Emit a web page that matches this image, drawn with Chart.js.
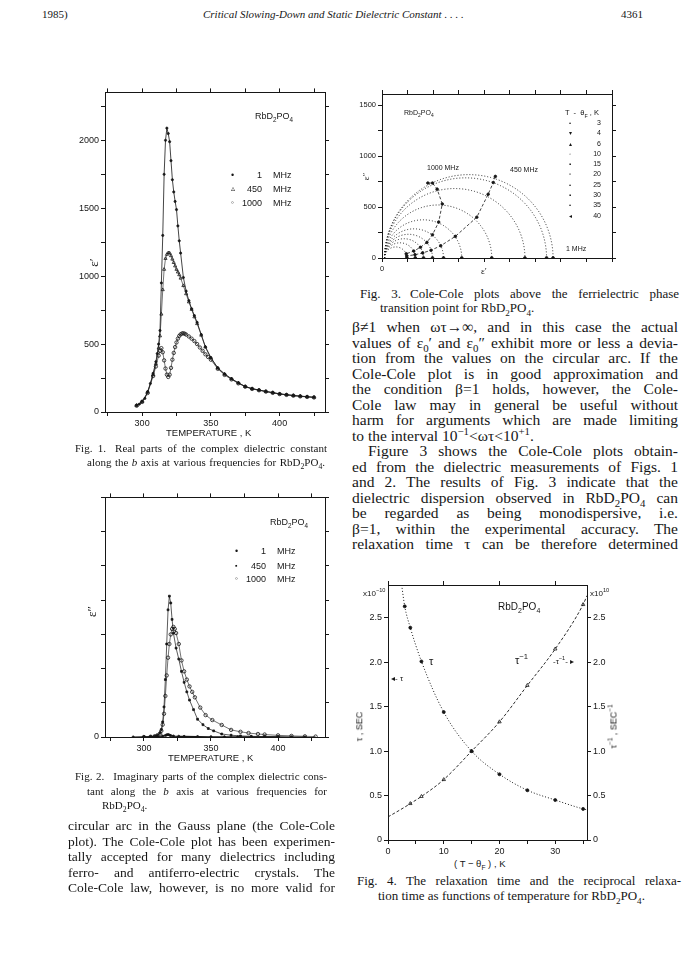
<!DOCTYPE html>
<html>
<head>
<meta charset="utf-8">
<script src="https://cdn.jsdelivr.net/npm/chart.js@4.4.1/dist/chart.umd.min.js"></script>
<style>
body{margin:0;background:#fff;width:688px;height:971px;position:relative;overflow:hidden;font-family:"Liberation Serif",serif;color:#161616}
canvas{position:absolute}
.t{position:absolute;white-space:nowrap;line-height:1}
.j{position:absolute;white-space:nowrap;line-height:1}
.s{font-family:"Liberation Sans",Arial,sans-serif}
.r{transform:rotate(-90deg);transform-origin:center center}
.g{display:inline-block;width:9px}
.b{font-size:15.5px}
sub,sup{font-size:70%;line-height:0}
</style>
</head>
<body>

<!-- page header -->
<div class="t" style="left:42px;top:9px;font-size:11px">1985)</div>
<div class="t" style="left:203px;top:9px;font-size:11px;font-style:italic">Critical Slowing-Down and Static Dielectric Constant . . . .</div>
<div class="t" style="left:621px;top:9px;font-size:11px">4361</div>

<canvas id="fig1" width="285" height="357" style="left:55px;top:85px"></canvas>
<canvas id="fig2" width="285" height="270" style="left:55px;top:490px"></canvas>
<canvas id="fig3" width="280" height="185" style="left:345px;top:87px"></canvas>
<canvas id="fig4" width="280" height="280" style="left:345px;top:577px"></canvas>

<!-- Fig. 1 labels -->
<div class="t s" style="left:255px;top:112px;font-size:9px">RbD<sub>2</sub>PO<sub>4</sub></div>
<div class="t s" style="left:231px;top:171px;font-size:9px">•</div>
<div class="t s" style="left:231px;top:185px;font-size:8px">▵</div>
<div class="t s" style="left:231px;top:199px;font-size:8px">◦</div>
<div class="t s" style="left:240px;top:171px;width:22px;text-align:right;font-size:9px">1</div>
<div class="t s" style="left:240px;top:185px;width:22px;text-align:right;font-size:9px">450</div>
<div class="t s" style="left:240px;top:199px;width:22px;text-align:right;font-size:9px">1000</div>
<div class="t s" style="left:273px;top:171px;font-size:9px">MHz</div>
<div class="t s" style="left:273px;top:185px;font-size:9px">MHz</div>
<div class="t s" style="left:273px;top:199px;font-size:9px">MHz</div>
<div class="t r" style="left:89px;top:256px;font-size:13px">ε′</div>
<div class="t s" style="left:166px;top:428px;font-size:9.5px">TEMPERATURE , K</div>
<div class="j" style="left:75px;top:443px;width:252px;font-size:11px">Fig. 1.<span class="g"></span>Real parts of the complex dielectric constant</div>
<div class="j" style="left:87px;top:457px;width:238px;font-size:11px">along the <i>b</i> axis at various frequencies for RbD<sub>2</sub>PO<sub>4</sub>.</div>

<!-- Fig. 2 labels -->
<div class="t s" style="left:270px;top:518px;font-size:9px">RbD<sub>2</sub>PO<sub>4</sub></div>
<div class="t s" style="left:235px;top:547px;font-size:9px">•</div>
<div class="t s" style="left:235px;top:562px;font-size:7px">▪</div>
<div class="t s" style="left:235px;top:575px;font-size:8px">◦</div>
<div class="t s" style="left:244px;top:547px;width:22px;text-align:right;font-size:9px">1</div>
<div class="t s" style="left:244px;top:562px;width:22px;text-align:right;font-size:9px">450</div>
<div class="t s" style="left:244px;top:575px;width:22px;text-align:right;font-size:9px">1000</div>
<div class="t s" style="left:277px;top:547px;font-size:9px">MHz</div>
<div class="t s" style="left:277px;top:562px;font-size:9px">MHz</div>
<div class="t s" style="left:277px;top:575px;font-size:9px">MHz</div>
<div class="t r" style="left:86px;top:605px;font-size:13px">ε″</div>
<div class="t s" style="left:168px;top:753px;font-size:9.5px">TEMPERATURE , K</div>
<div class="j" style="left:75px;top:771px;width:252px;font-size:11px">Fig. 2.<span class="g"></span>Imaginary parts of the complex dielectric cons-</div>
<div class="j" style="left:87px;top:786px;width:240px;font-size:11px">tant along the <i>b</i> axis at various frequencies for</div>
<div class="t" style="left:102px;top:800px;font-size:11px">RbD<sub>2</sub>PO<sub>4</sub>.</div>

<!-- left column text -->
<div class="j" style="left:68px;top:819px;width:267px;font-size:13.5px">circular arc in the Gauss plane (the Cole-Cole</div>
<div class="j" style="left:68px;top:834.5px;width:267px;font-size:13.5px">plot). The Cole-Cole plot has been experimen-</div>
<div class="j" style="left:68px;top:850px;width:267px;font-size:13.5px">tally accepted for many dielectrics including</div>
<div class="j" style="left:68px;top:865.5px;width:267px;font-size:13.5px">ferro- and antiferro-electric crystals. The</div>
<div class="j" style="left:68px;top:881px;width:267px;font-size:13.5px">Cole-Cole law, however, is no more valid for</div>

<!-- Fig. 3 labels -->
<div class="t s" style="left:404px;top:109px;font-size:7px">RbD<sub>2</sub>PO<sub>4</sub></div>
<div class="t s" style="left:565px;top:109px;font-size:7.5px">T &nbsp;- &nbsp;θ<sub>F</sub> , K</div>
<div class="t s" style="left:569px;top:118px;font-size:6px;line-height:10.3px">•<br>▾<br>▴<br>◦<br>▪<br>▫<br>•<br>▪<br>•<br>◂</div>
<div class="t s" style="left:582px;top:118px;width:19px;text-align:right;font-size:7px;line-height:10.3px">3<br>4<br>6<br>10<br>15<br>20<br>25<br>30<br>35<br>40</div>
<div class="t s" style="left:427px;top:164px;font-size:7px">1000 MHz</div>
<div class="t s" style="left:510px;top:166px;font-size:7px">450 MHz</div>
<div class="t s" style="left:566px;top:245px;font-size:7px">1 MHz</div>
<div class="t r" style="left:363px;top:172px;font-size:9px">ε″</div>
<div class="t" style="left:481px;top:267px;font-size:9px">ε′</div>
<div class="j" style="left:360px;top:287px;width:319px;font-size:13px">Fig. 3.<span class="g"></span>Cole-Cole plots above the ferrielectric phase</div>
<div class="t" style="left:380px;top:301px;font-size:13px">transition point for RbD<sub>2</sub>PO<sub>4</sub>.</div>

<!-- right column text -->
<div class="j b" style="left:352px;top:319px;width:326px">β≠1 when ωτ→∞, and in this case the actual</div>
<div class="j b" style="left:352px;top:334.5px;width:326px">values of ε<sub>0</sub>′ and ε<sub>0</sub>″ exhibit more or less a devia-</div>
<div class="j b" style="left:352px;top:350px;width:326px">tion from the values on the circular arc. If the</div>
<div class="j b" style="left:352px;top:365.5px;width:326px">Cole-Cole plot is in good approximation and</div>
<div class="j b" style="left:352px;top:381px;width:326px">the condition β=1 holds, however, the Cole-</div>
<div class="j b" style="left:352px;top:396.5px;width:326px">Cole law may in general be useful without</div>
<div class="j b" style="left:352px;top:412px;width:326px">harm for arguments which are made limiting</div>
<div class="t b" style="left:352px;top:427.5px">to the interval 10<sup>−1</sup>&lt;ωτ&lt;10<sup>+1</sup>.</div>
<div class="j b" style="left:368px;top:443px;width:310px">Figure 3 shows the Cole-Cole plots obtain-</div>
<div class="j b" style="left:352px;top:458.5px;width:326px">ed from the dielectric measurements of Figs. 1</div>
<div class="j b" style="left:352px;top:474px;width:326px">and 2. The results of Fig. 3 indicate that the</div>
<div class="j b" style="left:352px;top:489.5px;width:326px">dielectric dispersion observed in RbD<sub>2</sub>PO<sub>4</sub> can</div>
<div class="j b" style="left:352px;top:505px;width:326px">be regarded as being monodispersive, i.e.</div>
<div class="j b" style="left:352px;top:520.5px;width:326px">β=1, within the experimental accuracy. The</div>
<div class="j b" style="left:352px;top:536px;width:326px">relaxation time τ can be therefore determined</div>

<!-- Fig. 4 labels -->
<div class="t s" style="left:363px;top:590px;font-size:8px">x10<sup>−10</sup></div>
<div class="t s" style="left:590px;top:590px;font-size:8px">x10<sup>10</sup></div>
<div class="t s" style="left:498px;top:602px;font-size:10px">RbD<sub>2</sub>PO<sub>4</sub></div>
<div class="t s" style="left:429px;top:656px;font-size:11px">τ</div>
<div class="t s" style="left:515px;top:655px;font-size:11px">τ<sup>−1</sup></div>
<div class="t s" style="left:391px;top:675px;font-size:8px">◂- τ</div>
<div class="t s" style="left:553px;top:658px;font-size:8px">-τ<sup>−1</sup>- ▸</div>
<div class="t s r" style="left:345px;top:722px;font-size:9px">τ , SEC</div>
<div class="t s r" style="left:592px;top:722px;font-size:9px">τ<sup>−1</sup> , SEC<sup>−1</sup></div>
<div class="t s" style="left:454px;top:859px;font-size:9.5px">( T − θ<sub>F</sub> ) , K</div>
<div class="j" style="left:357px;top:874px;width:324px;font-size:13px">Fig. 4.<span class="g"></span>The relaxation time and the reciprocal relaxa-</div>
<div class="t" style="left:378px;top:889px;font-size:13px">tion time as functions of temperature for RbD<sub>2</sub>PO<sub>4</sub>.</div>

<script>
// Fig. 1: real part eps' vs temperature (K)
var t1mhz = [296,298,300,302,304,306,308,310,311,312,313,314,315,316,317,318,319,320,321,322,323,324,325,326,327,328,330,332,334,336,338,340,343,346,350,355,360,365,370,375,380,385,390,395,400,405,410,415,420,425];
var e1mhz = [50,58,80,100,150,210,285,370,430,500,600,950,1300,1750,2000,2090,2050,1990,1850,1710,1620,1550,1490,1370,1260,1170,990,890,820,760,710,660,570,480,400,325,280,245,215,188,172,162,152,143,134,128,122,117,113,109];
var t450 = [296,300,304,308,310,312,313,314,315,316,317,318,319,320,321,322,323,324,325,326,327,328,330,332,334,336,338,340,343,346,350,355,360,365,370,375,380,385,390,395,400,405,410,415,420,425];
var e450 = [48,76,145,275,355,470,560,720,900,1050,1130,1160,1172,1170,1150,1125,1100,1075,1050,1030,1010,985,930,870,810,755,700,650,565,478,398,323,278,243,213,187,171,161,151,142,133,127,121,116,112,108];
var t1000 = [296,300,304,308,310,312,313,314,315,316,317,318,319,320,321,322,323,324,325,326,327,328,329,330,331,332,334,336,338,340,342,344,346,348,350,355,360,365,370,375,380,385,390,395,400,405,410,415,420,425];
var e1000 = [46,74,140,265,335,415,450,470,440,380,320,275,258,275,325,385,435,478,512,540,560,572,578,580,576,570,556,540,522,500,475,450,425,405,385,318,273,240,211,186,170,160,150,141,132,126,120,115,111,107];

// Fig. 2: imaginary part eps'' vs temperature (K)
var u1mhz = [292,300,305,310,314,316,317,318,319,320,322,326,330,340,350,360,370,380,390,400,410,420];
var i1mhz = [0,1,2,4,7,11,15,18,14,10,7,5,4,3,2,2,1,1,1,1,0,0];
var u450 = [300,305,308,310,312,313,314,315,316,317,318,319,320,321,322,324,326,328,330,332,334,337,340,344,348,352,358,365,372,380,390,400];
var i450 = [0,2,6,12,30,55,110,220,420,680,930,1030,980,860,760,650,570,480,400,330,270,200,130,90,62,45,22,13,8,5,3,2];
var u1000 = [300,305,308,310,312,313,314,315,316,317,318,319,320,321,322,323,324,326,328,330,332,334,336,338,342,346,351,358,365,372,378,385,390,400,410,420,428];
var i1000 = [0,2,5,12,25,45,90,170,300,450,580,680,750,790,805,790,760,680,560,480,420,370,330,290,215,160,124,88,52,38,29,22,18,12,8,5,3];

// Fig. 3: Cole-Cole circles, one per T - theta_F (K)
var coleT = [3,4,6,10,15,20,25,30,35,40];
var epsS = [1660,1597,1387,1065,774,597,490,403,323,242];
var epsInf = [25,25,25,25,25,25,25,25,25,25];
var re450 = [1100,1080,1030,920,712,570,476,395,320,240];
var im450 = [800,740,625,400,212,120,76,50,32,20];
var re1000 = [445,490,535,585,550,490,436,373,308,235];
var im1000 = [735,735,675,530,352,228,153,105,68,41];
var im1mhz = [0,0,0,0,0,0,0,0,0,0];

// Fig. 4: tau (1e-10 s) and 1/tau (1e10 1/s) vs T - theta_F
var tauX = [3,4,6,10,15,20,25,30,35];
var tau = [2.63,2.39,2.01,1.44,1.00,0.74,0.56,0.45,0.35];
var invX = [4,6,10,15,20,25,30,35];
var invTau = [0.41,0.49,0.68,1.00,1.33,1.74,2.15,2.65];
var tauLineX = [2.45,3,4,6,10,15,20,25,30,35,35.7];
var tauLineY = [2.87,2.63,2.39,2.01,1.44,1.00,0.74,0.56,0.45,0.35,0.34];
var invLineX = [0,3,4,6,10,15,20,25,30,35,35.7];
var invLineY = [0.26,0.37,0.41,0.49,0.68,1.00,1.33,1.74,2.15,2.65,2.75];

function pts(xs, ys) {
  return xs.map(function(x, i) { return {x: x, y: ys[i]}; });
}

var ink = '#161616';

function axis(pos, min, max, step, every, size, labels, fsize, fmt) {
  return {
    type: 'linear', position: pos, min: min, max: max,
    border: {display: true, color: ink, width: 1},
    grid: {drawOnChartArea: false, drawTicks: true, tickLength: 4, color: ink},
    ticks: {
      display: labels, stepSize: step, includeBounds: false, autoSkip: false, maxRotation: 0,
      padding: 2, color: ink, font: {family: 'Liberation Sans', size: fsize || 9},
      callback: function(v) {
        var k = v / every;
        if (Math.abs(k - Math.round(k)) > 1e-6) return '';
        return fmt ? fmt(v) : String(v);
      }
    },
    afterFit: function(s) {
      if (pos == 'left' || pos == 'right') s.width = size; else s.height = size;
    }
  };
}

function base(datasets, scales, pad, plugins) {
  return {
    type: 'scatter',
    data: {datasets: datasets},
    options: {
      responsive: false, animation: false, events: [],
      layout: {padding: pad},
      plugins: {legend: {display: false}, tooltip: {enabled: false}},
      scales: scales
    },
    plugins: plugins || []
  };
}

function series(data, style, r, fill, line) {
  return {
    data: data, showLine: true, borderColor: ink, borderWidth: line || 0.7,
    pointStyle: style, pointRadius: r, pointBorderColor: ink, pointBorderWidth: 0.8,
    pointBackgroundColor: fill ? ink : 'rgba(0,0,0,0)'
  };
}

// Fig. 1
new Chart(document.getElementById('fig1'), base([
  series(pts(t1mhz, e1mhz), 'circle', 1.1, true, 0.8),
  series(pts(t450, e450), 'triangle', 1.8, false, 0.6),
  series(pts(t1000, e1000), 'circle', 1.7, false, 0.6)
], {
  x: axis('bottom', 273, 433, 25, 50, 30, true),
  y: axis('left', 0, 2353, 250, 500, 50, true),
  x2: axis('top', 273, 433, 25, 50, 6, false),
  y2: axis('right', 0, 2353, 250, 500, 6, false)
}, {top: 1, right: 9, left: 0, bottom: 0}));

// Fig. 2
new Chart(document.getElementById('fig2'), base([
  series(pts(u1mhz, i1mhz), 'circle', 1.1, true, 1.2),
  series(pts(u450, i450), 'rect', 1.3, true, 0.7),
  series(pts(u1000, i1000), 'circle', 1.7, false, 0.6)
], {
  x: axis('bottom', 271, 435, 25, 50, 23, true),
  y: axis('left', 0, 1752, 250, 500, 50, true),
  x2: axis('top', 271, 435, 25, 50, 6, false),
  y2: axis('right', 0, 1752, 250, 500, 6, false)
}, {top: 1, right: 9, left: 0, bottom: 0}));

// semicircles of the Cole-Cole plot, drawn through the chart scales
var coleArcs = {
  id: 'coleArcs',
  beforeDatasetsDraw: function(chart) {
    var xs = chart.scales.x, ys = chart.scales.y, c = chart.ctx, a = chart.chartArea;
    c.save();
    c.beginPath(); c.rect(a.left, a.top, a.right - a.left, a.bottom - a.top); c.clip();
    c.strokeStyle = ink; c.lineWidth = 0.9; c.setLineDash([1, 2]);
    for (var i = 0; i < coleT.length; i++) {
      var mid = (epsS[i] + epsInf[i]) / 2, rad = (epsS[i] - epsInf[i]) / 2;
      var cx = xs.getPixelForValue(mid), cy = ys.getPixelForValue(0);
      var rx = xs.getPixelForValue(epsS[i]) - cx, ry = cy - ys.getPixelForValue(rad);
      c.beginPath(); c.ellipse(cx, cy, rx, ry, 0, Math.PI, 2 * Math.PI); c.stroke();
    }
    c.restore();
  }
};

// Fig. 3
var f3a = series(pts(re450, im450), 'circle', 1.3, true, 0.8);
f3a.borderDash = [3, 2];
var f3b = series(pts(re1000, im1000), 'circle', 1.3, true, 0.8);
f3b.borderDash = [3, 2];
var f3c = series(pts(epsS, im1mhz), 'circle', 1.4, true, 0);
f3c.showLine = false;
new Chart(document.getElementById('fig3'), base([f3a, f3b, f3c], {
  x: axis('bottom', 0, 2232, 250, 500, 14, true, 7.5),
  y: axis('left', 0, 1608, 250, 500, 37, true, 7.5),
  x2: axis('top', 0, 2232, 250, 500, 6, false),
  y2: axis('right', 0, 1608, 250, 500, 6, false)
}, {top: 1, right: 7, left: 0, bottom: 0}, [coleArcs]));

// Fig. 4
var halfFmt = function(v) { return v === 0 ? '0' : v.toFixed(1); };
var f4a = series(pts(tauLineX, tauLineY), 'circle', 0, true, 1);
f4a.borderDash = [1, 2]; f4a.cubicInterpolationMode = 'monotone';
var f4b = series(pts(invLineX, invLineY), 'circle', 0, true, 0.9);
f4b.borderDash = [3, 2]; f4b.cubicInterpolationMode = 'monotone';
var f4c = series(pts(tauX, tau), 'circle', 1.5, true, 0); f4c.showLine = false;
var f4d = series(pts(invX, invTau), 'triangle', 2, false, 0); f4d.showLine = false;
new Chart(document.getElementById('fig4'), base([f4a, f4b, f4c, f4d], {
  x: axis('bottom', 0, 35.7, 5, 10, 17, true),
  y: axis('left', 0, 2.87, 0.5, 0.5, 43, true, 9, halfFmt),
  x2: axis('top', 0, 35.7, 10, 10, 7, false),
  y2: axis('right', 0, 2.87, 0.5, 0.5, 38, true, 9, halfFmt)
}, {top: 1, right: 0, left: 0, bottom: 0}));

// stretch each text line to its column width, like set type
document.querySelectorAll('.j').forEach(function(el) {
  var target = parseFloat(el.style.width);
  el.style.width = 'auto';
  var w = el.getBoundingClientRect().width;
  var n = (el.textContent.match(/ /g) || []).length;
  if (w > target) el.style.letterSpacing = ((target - w) / el.textContent.length) + 'px';
  else if (n) el.style.wordSpacing = ((target - w) / n) + 'px';
});
</script>
</body>
</html>
